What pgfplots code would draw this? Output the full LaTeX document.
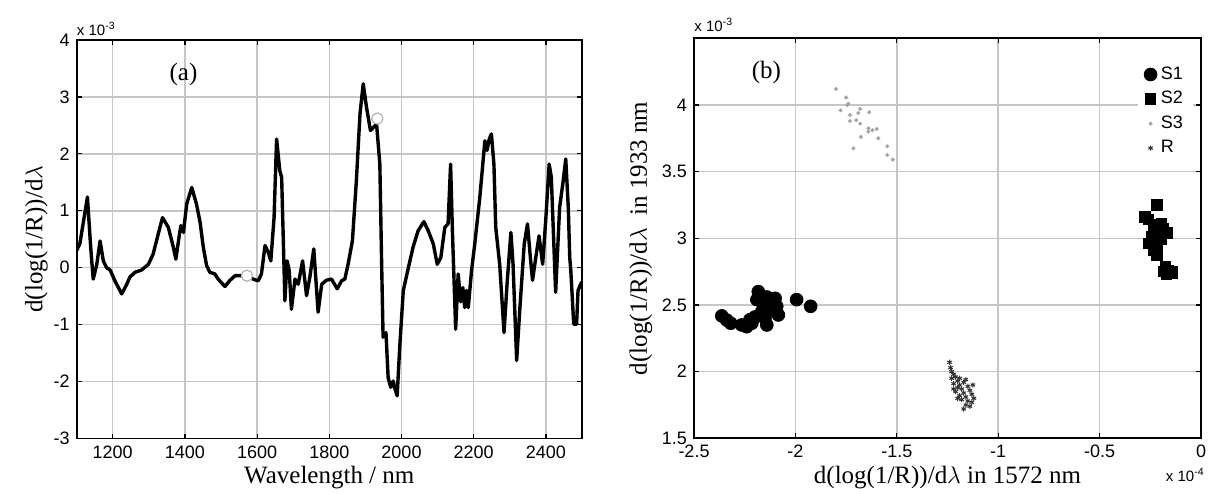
\documentclass[border=0pt]{standalone}
\usepackage{pgfplots}
\pgfplotsset{compat=1.18}
\usepackage{fontspec}
\setmainfont{Liberation Serif}
\setsansfont{Liberation Sans}

\pgfplotstableread{
wl v
1100 0.30
1109 0.42
1120 0.85
1130 1.24
1139 0.36
1146 -0.20
1156 0.06
1165 0.47
1174 0.12
1183 0.00
1193 -0.04
1206 -0.23
1225 -0.46
1239 -0.29
1248 -0.16
1262 -0.08
1280 -0.04
1299 0.06
1312 0.24
1326 0.59
1338 0.88
1354 0.71
1368 0.36
1375 0.15
1385 0.59
1389 0.74
1396 0.62
1405 1.12
1419 1.41
1432 1.12
1442 0.80
1451 0.36
1460 0.04
1469 -0.08
1483 -0.11
1492 -0.20
1511 -0.33
1525 -0.22
1539 -0.14
1557 -0.14
1573 -0.14
1589 -0.20
1603 -0.23
1612 -0.11
1622 0.39
1631 0.27
1638 0.12
1647 0.88
1654 2.26
1663 1.70
1668 1.59
1677 -0.58
1683 0.12
1689 -0.05
1695 -0.73
1705 -0.20
1714 -0.29
1726 0.12
1737 -0.49
1746 -0.17
1757 0.33
1769 -0.78
1779 -0.29
1792 -0.22
1806 -0.20
1822 -0.37
1834 -0.23
1843 -0.20
1852 0.06
1864 0.47
1875 1.53
1885 2.70
1894 3.23
1903 2.82
1914 2.41
1923 2.47
1931 2.52
1940 1.82
1945 0.06
1949 -1.22
1957 -1.14
1963 -1.93
1970 -2.10
1977 -1.99
1982 -2.13
1988 -2.25
1995 -1.40
2005 -0.40
2019 0.00
2032 0.36
2046 0.65
2062 0.81
2074 0.65
2088 0.42
2099 0.06
2109 0.18
2120 0.71
2129 0.77
2136 1.82
2141 0.65
2150 -1.08
2157 -0.11
2164 -0.60
2170 -0.35
2175 -0.70
2180 -0.40
2185 -0.70
2194 -0.05
2203 0.42
2217 1.24
2231 2.23
2237 2.06
2243 2.26
2249 2.35
2256 1.82
2261 0.71
2272 0.06
2284 -1.14
2293 -0.23
2303 0.62
2309 0.06
2319 -1.63
2328 -0.70
2340 0.42
2349 0.77
2357 0.18
2363 -0.22
2372 0.18
2381 0.56
2391 0.06
2400 0.88
2409 1.82
2415 1.59
2427 -0.43
2438 1.06
2448 1.53
2455 1.91
2462 1.06
2466 0.18
2469 -0.05
2477 -0.99
2485 -0.99
2489 -0.40
2496 -0.29
2500 -0.25
}\spectrum

\pgfplotstableread{
x y
-2.363 2.418
-2.339 2.387
-2.319 2.363
-2.265 2.350
-2.240 2.337
-2.215 2.363
-2.224 2.390
-2.199 2.410
-2.183 2.600
-2.190 2.540
-2.175 2.560
-2.141 2.560
-2.100 2.550
-2.092 2.490
-2.084 2.425
-2.141 2.350
-2.166 2.450
-2.125 2.460
-2.158 2.510
-2.110 2.520
-2.150 2.400
-1.994 2.540
-1.925 2.490
}\sone

\pgfplotstableread{
x y
-0.218 3.250
-0.276 3.160
-0.260 3.140
-0.235 3.100
-0.194 3.110
-0.186 3.075
-0.169 3.040
-0.210 3.040
-0.243 3.010
-0.260 2.960
-0.218 2.960
-0.194 2.990
-0.235 2.910
-0.218 2.875
-0.177 2.790
-0.161 2.760
-0.144 2.740
-0.140 2.750
-0.186 2.750
-0.170 2.730
}\stwo

\pgfplotstableread{
x y
-1.800 4.120
-1.750 4.056
-1.739 4.010
-1.745 4.000
-1.777 3.960
-1.731 3.925
-1.681 3.970
-1.690 3.940
-1.636 3.945
-1.731 3.880
-1.700 3.885
-1.681 3.860
-1.640 3.825
-1.620 3.810
-1.599 3.820
-1.640 3.800
-1.591 3.750
-1.677 3.760
-1.714 3.675
-1.547 3.690
-1.547 3.625
-1.520 3.590
}\sthree

\pgfplotstableread{
x y
-1.240 2.070
-1.235 2.030
-1.230 2.000
-1.220 1.980
-1.230 1.950
-1.210 1.960
-1.200 1.930
-1.190 1.950
-1.220 1.910
-1.190 1.900
-1.170 1.920
-1.160 1.940
-1.200 1.880
-1.180 1.870
-1.150 1.890
-1.210 1.850
-1.170 1.840
-1.140 1.860
-1.190 1.820
-1.160 1.810
-1.130 1.830
-1.180 1.790
-1.150 1.780
-1.120 1.800
-1.160 1.750
-1.140 1.740
-1.170 1.720
-1.130 1.770
-1.200 1.800
-1.220 1.870
-1.125 1.900
}\rr

\pgfplotsset{
  mystyle/.style={
    scale only axis,
    axis line style={black, line width=0.9pt},
    grid=major,
    grid style={gray!45, line width=0.75pt},
    tick style={black, line width=0.6pt},
    major tick length=2.5pt,
    tick align=inside,
    xtick pos=both, ytick pos=both,
    scaled ticks=false,
    tick label style={font=\sffamily\fontsize{9}{10}\selectfont},
    /pgf/number format/assume math mode=true,
    /pgf/number format/set thousands separator={},
    label style={font=\fontsize{12.5}{14}\selectfont},
    clip mode=individual,
  }
}

\begin{document}
\begin{tikzpicture}
\path[use as bounding box] (0,0) rectangle (605pt,246.5pt);

% Panel (a)
\begin{axis}[mystyle,
  at={(38.3pt,27.25pt)}, anchor=south west,
  width=252.7pt, height=199.25pt,
  xmin=1100, xmax=2500, ymin=-3, ymax=4,
  xtick={1200,1400,...,2400},
  ytick={-3,-2,...,4},
  xlabel={Wavelength / nm},
  ylabel={d(log(1/R))/d$\lambda$},
  xlabel style={yshift=3pt},
  ylabel style={yshift=-4pt},
]
\addplot[black, line width=1.7pt, line join=round] table[x=wl, y=v] {\spectrum};
\addplot[only marks, mark=*, mark size=2.8pt, mark options={fill=white, draw=gray!60, line width=0.6pt}] coordinates {(1572,-0.14) (1933,2.62)};
\node[anchor=north west, font=\fontsize{12.5}{14}\selectfont] at (rel axis cs:0.17,0.96) {(a)};
\node[anchor=south west, inner sep=0pt, font=\sffamily\fontsize{7.5}{8}\selectfont] at ([yshift=2pt]rel axis cs:0,1) {x 10\textsuperscript{-3}};
\end{axis}

% Panel (b)
\begin{axis}[mystyle,
  at={(347pt,27.35pt)}, anchor=south west,
  width=253.5pt, height=200pt,
  xmin=-2.5, xmax=0, ymin=1.5, ymax=4.5,
  xtick={-2.5,-2,...,0},
  ytick={1.5,2,...,4},
  xticklabels={-2.5,-2,-1.5,-1,-0.5,0},
  yticklabels={1.5,2,2.5,3,3.5,4},
  xlabel={d(log(1/R))/d$\lambda$ in 1572 nm},
  ylabel={d(log(1/R))/d$\lambda$\ \ in 1933 nm},
  xlabel style={yshift=3pt},
  ylabel style={yshift=-2pt},
  legend style={at={(0.985,0.95)}, anchor=north east, draw=none, fill=white,
    font=\sffamily\fontsize{9}{10}\selectfont, row sep=0.5pt,
    legend cell align=left},
]
\addplot[only marks, mark=*, mark size=3.2pt, black] table[x=x,y=y] {\sone};
\addlegendentry{S1}
\addplot[only marks, mark=square*, mark size=2.6pt, black] table[x=x,y=y] {\stwo};
\addlegendentry{S2}
\addplot[only marks, mark=*, mark size=0.8pt, gray!70] table[x=x,y=y] {\sthree};
\addlegendentry{S3}
\addplot[only marks, mark=asterisk, mark size=1.3pt, black!80, mark options={line width=0.5pt}] table[x=x,y=y] {\rr};
\addlegendentry{R}
\node[anchor=north west, font=\fontsize{12.5}{14}\selectfont] at (rel axis cs:0.1,0.96) {(b)};
\node[anchor=south west, inner sep=0pt, font=\sffamily\fontsize{7.5}{8}\selectfont] at ([yshift=3pt]rel axis cs:0,1) {x 10\textsuperscript{-3}};
\node[anchor=north east, inner sep=0pt, font=\sffamily\fontsize{7.5}{8}\selectfont] at ([yshift=-15pt, xshift=2pt]rel axis cs:1,0) {x 10\textsuperscript{-4}};
\end{axis}
\end{tikzpicture}
\end{document}
